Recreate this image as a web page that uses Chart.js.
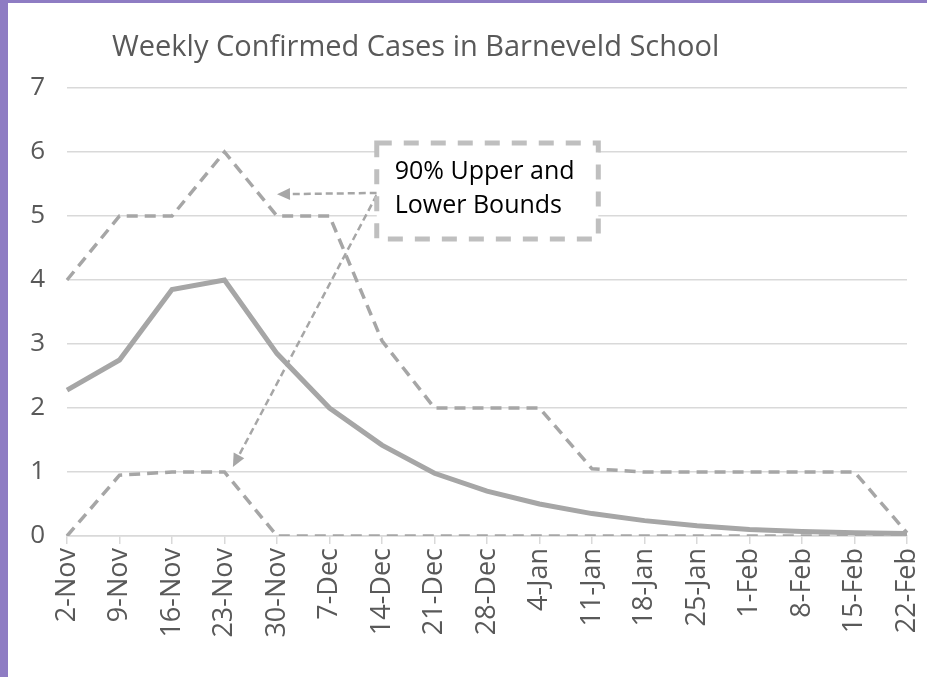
<!DOCTYPE html>
<html>
<head>
<meta charset="utf-8">
<script src="https://cdn.jsdelivr.net/npm/chart.js@4.4.0/dist/chart.umd.min.js"></script>
<style>
    html, body { margin: 0; padding: 0; }
    body { width: 927px; height: 677px; background: #8e7cc3; overflow: hidden; position: relative; }
    #wrap { position: absolute; left: 8px; top: 3px; width: 919px; height: 674px; background: #fff; }
</style>
</head>
<body>
<div id="wrap"><canvas id="grafico"></canvas></div>
<script>
// Dados
const semanas = ['2-Nov', '9-Nov', '16-Nov', '23-Nov', '30-Nov', '7-Dec', '14-Dec', '21-Dec', '28-Dec',
    '4-Jan', '11-Jan', '18-Jan', '25-Jan', '1-Feb', '8-Feb', '15-Feb', '22-Feb'];
const media = [2.28, 2.75, 3.85, 4.0, 2.85, 2.0, 1.42, 0.98, 0.7, 0.5, 0.35, 0.24, 0.16, 0.1, 0.07, 0.05, 0.04];
const limiteSuperior = [4, 5, 5, 6, 5, 5, 3.05, 2, 2, 2, 1.05, 1, 1, 1, 1, 1, 0.05];
const limiteInferior = [0, 0.95, 1, 1, 0, 0, 0, 0, 0, 0, 0, 0, 0, 0, 0, 0, 0];
const eixoY = { min: 0, max: 7, passo: 1 };

const titulo = 'Weekly Confirmed Cases in Barneveld School';
const notaLinhas = ['90% Upper and', 'Lower Bounds'];

const CINZA = '#a6a6a6';
const TEXTO = '#595959';
const FONTE = "'Open Sans', 'Noto Sans', sans-serif";

// Setas e caixa da nota, em coordenadas do gráfico (índice da semana, casos)
const notaCaixa = { x0: 5.9, x1: 10.12, y0: 6.14, y1: 4.64 };
const setas = [
    { de: [5.9, 5.36], para: [4.0, 5.34] },
    { de: [5.9, 5.33], para: [3.16, 1.08] }
];

function desenharSeta(ctx, x0, y0, x1, y1) {
    const ang = Math.atan2(y1 - y0, x1 - x0);
    const ponta = 13;
    const bx = x1 - Math.cos(ang) * ponta;
    const by = y1 - Math.sin(ang) * ponta;
    ctx.save();
    ctx.strokeStyle = CINZA;
    ctx.lineWidth = 2.5;
    ctx.setLineDash([7, 4]);
    ctx.beginPath();
    ctx.moveTo(x0, y0);
    ctx.lineTo(bx, by);
    ctx.stroke();
    ctx.setLineDash([]);
    ctx.fillStyle = CINZA;
    ctx.beginPath();
    ctx.moveTo(x1, y1);
    ctx.lineTo(bx + Math.sin(ang) * 6, by - Math.cos(ang) * 6);
    ctx.lineTo(bx - Math.sin(ang) * 6, by + Math.cos(ang) * 6);
    ctx.closePath();
    ctx.fill();
    ctx.restore();
}

const pluginNotas = {
    id: 'notas',
    afterDraw(chart) {
        const { ctx, chartArea, scales } = chart;
        const px = v => scales.x.getPixelForValue(v);
        const py = v => scales.y.getPixelForValue(v);

        // Título
        ctx.save();
        ctx.fillStyle = TEXTO;
        ctx.font = `29px ${FONTE}`;
        ctx.textBaseline = 'alphabetic';
        ctx.fillText(titulo, chartArea.left + 45, chartArea.top - 32);
        ctx.restore();

        // Setas
        setas.forEach(s => desenharSeta(ctx, px(s.de[0]), py(s.de[1]), px(s.para[0]), py(s.para[1])));

        // Caixa da nota
        const x0 = px(notaCaixa.x0), x1 = px(notaCaixa.x1);
        const y0 = py(notaCaixa.y0), y1 = py(notaCaixa.y1);
        ctx.save();
        ctx.fillStyle = '#ffffff';
        ctx.fillRect(x0, y0, x1 - x0, y1 - y0);
        ctx.strokeStyle = '#bfbfbf';
        ctx.lineWidth = 5;
        ctx.setLineDash([15, 12]);
        ctx.strokeRect(x0, y0, x1 - x0, y1 - y0);
        ctx.fillStyle = '#000000';
        ctx.font = `25px ${FONTE}`;
        notaLinhas.forEach((linha, i) => ctx.fillText(linha, x0 + 18, y0 + 36 + i * 34));
        ctx.restore();
    }
};

const ctx = document.getElementById('grafico').getContext('2d');
new Chart(ctx, {
    type: 'line',
    data: {
        labels: semanas,
        datasets: [
            {
                label: 'Upper',
                data: limiteSuperior,
                borderColor: CINZA,
                borderWidth: 3.5,
                borderDash: [11, 7],
                pointRadius: 0,
                tension: 0,
                fill: false
            },
            {
                label: 'Lower',
                data: limiteInferior,
                borderColor: CINZA,
                borderWidth: 3.5,
                borderDash: [11, 7],
                pointRadius: 0,
                tension: 0,
                fill: false
            },
            {
                label: 'Cases',
                data: media,
                borderColor: CINZA,
                borderWidth: 5,
                pointRadius: 0,
                tension: 0,
                fill: false
            }
        ]
    },
    options: {
        responsive: true,
        maintainAspectRatio: false,
        animation: false,
        layout: { padding: { top: 85, right: 20, left: 0, bottom: 0 } },
        plugins: {
            legend: { display: false },
            title: { display: false },
            tooltip: { enabled: false }
        },
        scales: {
            x: {
                offset: false,
                grid: { drawOnChartArea: false, drawTicks: true, tickLength: 8, color: '#d9d9d9', lineWidth: 1.5 },
                border: { display: true, color: '#d9d9d9', width: 1.5 },
                ticks: {
                    autoSkip: false,
                    maxRotation: 90,
                    minRotation: 90,
                    padding: 4,
                    color: TEXTO,
                    font: { family: FONTE, size: 27 }
                },
                afterFit(scale) {
                    scale.height = 141;
                    scale.paddingLeft = 0;
                    scale.paddingRight = 0;
                }
            },
            y: {
                min: eixoY.min,
                max: eixoY.max,
                grid: { drawTicks: false, color: '#d9d9d9', lineWidth: 1.5 },
                border: { display: false },
                ticks: {
                    stepSize: eixoY.passo,
                    padding: 22,
                    color: TEXTO,
                    font: { family: FONTE, size: 26 }
                },
                afterFit(scale) { scale.width = 59; }
            }
        }
    },
    plugins: [pluginNotas]
});
</script>
</body>
</html>
